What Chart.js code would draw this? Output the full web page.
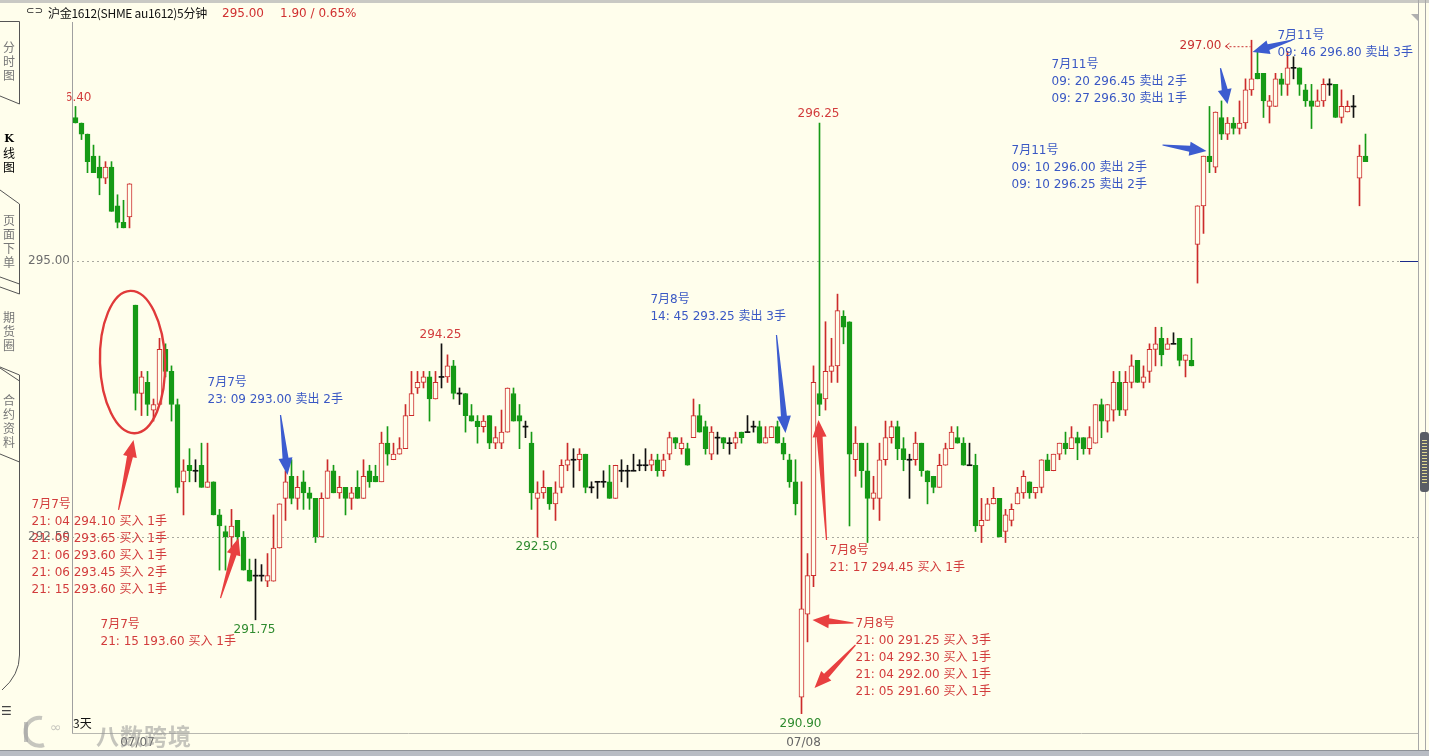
<!DOCTYPE html>
<html><head><meta charset="utf-8">
<script src="https://cdn.jsdelivr.net/npm/chart.js@4.4.1/dist/chart.umd.min.js"></script>
<style>
html,body{margin:0;padding:0;background:#FFFEEC;overflow:hidden;}
#wrap{position:relative;width:1429px;height:756px;background:#FFFEEC;font-family:"DejaVu Sans","Noto Sans CJK SC",sans-serif;overflow:hidden;}
#c{position:absolute;left:0;top:0;}
.abs{position:absolute;white-space:nowrap;}
#hdr{left:48px;top:4px;font:12px "Noto Sans CJK SC","DejaVu Sans",sans-serif;color:#111;letter-spacing:-0.3px;}
.hred{color:#D03030;font:12px "DejaVu Sans",sans-serif;top:6px;}
.tab{position:absolute;left:1px;width:16px;font:12px "Noto Sans CJK SC",sans-serif;color:#777;line-height:14px;text-align:center;}
#wm{left:96px;top:718px;font:bold 23px "Noto Sans CJK SC",sans-serif;color:rgba(150,150,150,0.55);letter-spacing:1px;}
</style></head><body>
<div id="wrap">
<canvas id="c" width="1429" height="756"></canvas>
<div class="abs" style="left:0;top:0;width:1429px;height:3px;background:#C9C9C4;"></div>
<div class="abs" style="left:26px;top:5px;font:10px 'DejaVu Sans';color:#222;">⊂⊃</div>
<div class="abs" id="hdr">沪金1612(SHME au1612)5分钟</div>
<div class="abs hred" style="left:222px;">295.00</div>
<div class="abs hred" style="left:280px;">1.90 / 0.65%</div>
<svg class="abs" style="left:0;top:0;" width="24" height="756">
<g stroke="#555" stroke-width="1" fill="none">
<path d="M0 21.5 H19.5 V104 L0 96"/>
<path d="M0 190 L19.5 204 V284 L0 277"/>
<path d="M19.5 284 V294 L0 287"/>
<path d="M0 368 L19.5 381 V375 L0 367"/>
<path d="M19.5 381 V462 L0 454"/>
<path d="M19.5 462 V655 Q19.5 675 2 690"/>
</g>
</svg>
<div class="tab" style="top:40px;">分<br>时<br>图</div>
<div class="tab" style="top:130px;color:#000;"><b style="font-family:'DejaVu Serif';font-size:11px;">K</b><br>线<br>图</div>
<div class="tab" style="top:213px;">页<br>面<br>下<br>单</div>
<div class="tab" style="top:310px;">期<br>货<br>圈</div>
<div class="tab" style="top:393px;">合<br>约<br>资<br>料</div>
<div class="abs" style="left:1px;top:704px;font:12px 'DejaVu Sans';color:#444;">☰</div>
<div class="abs" style="left:73px;top:714px;font:12px 'Noto Sans CJK SC';color:#111;">3天</div>
<svg class="abs" style="left:20px;top:712px;" width="75" height="40">
<g fill="none" stroke="rgba(160,160,160,0.6)" stroke-width="4">
<path d="M22 6 A14 14 0 1 0 24 33"/>
<path d="M6 10 V30"/>
</g>
<text x="30" y="20" font-family="DejaVu Sans" font-size="14" fill="rgba(160,160,160,0.6)">∞</text>
</svg>
<div class="abs" id="wm">八数跨境</div>
<div class="abs" style="left:1418px;top:0;width:1px;height:752px;background:#A8A8A8;"></div>
<div class="abs" style="left:1425px;top:0;width:1px;height:752px;background:#A8A8A8;"></div>
<div class="abs" style="left:1411px;top:14px;width:0;height:0;border-left:7px solid transparent;border-top:7px solid #B0B0B0;"></div>
<div class="abs" style="left:1420px;top:432px;width:9px;height:60px;background:#5A5E66;border-radius:3px;"></div>
<div class="abs" style="left:1422px;top:440px;width:5px;height:44px;background:repeating-linear-gradient(#E0D890 0 1px,#5A5E66 1px 3px);"></div>
<div class="abs" style="left:0;top:750px;width:1429px;height:6px;background:#B8BCC4;border-top:1px solid #8E9298;"></div>
</div>
<script>
// ---------------- data ----------------
const opens = [296.30,296.25,296.15,295.95,295.85,295.75,295.85,295.50,295.35,295.40,
294.60,293.80,293.90,293.65,293.70,294.20,294.00,293.70,293.00,293.15,293.10,293.15,292.95,293.00,292.70,292.55,292.50,292.65,292.50,292.20,
292.15,292.15,292.10,292.10,292.40,292.85,293.05,292.85,293.00,292.90,292.85,292.50,292.85,293.10,292.90,292.95,292.85,292.95,292.85,293.10,
293.05,293.00,293.35,293.20,293.25,293.30,293.60,293.85,293.90,293.95,293.75,293.95,293.95,294.05,293.80,293.80,293.60,293.55,293.50,293.60,
293.35,293.35,293.45,293.80,293.60,293.50,293.35,292.85,292.90,292.95,292.80,292.95,293.15,293.20,293.20,293.25,292.95,293.00,293.00,293.00,
292.85,293.10,293.10,293.10,293.15,293.15,293.15,293.20,293.10,293.25,293.40,293.30,293.30,293.40,293.60,293.50,293.25,293.40,293.40,293.35,
293.35,293.45,293.45,293.50,293.50,293.35,293.40,293.50,293.35,293.20,293.00,
291.05,291.80,292.15,293.80,293.75,294.00,294.05,294.50,294.45,293.20,293.35,293.10,292.85,292.85,293.20,293.40,293.50,293.30,293.20,293.20,
293.35,293.10,293.05,292.95,293.15,293.30,293.40,293.35,293.15,293.15,292.60,292.65,292.80,292.85,292.55,292.65,292.80,292.90,293.00,292.90,
292.95,293.20,293.10,293.25,293.35,293.30,293.40,293.40,293.30,293.35,293.70,293.55,293.65,293.90,293.65,293.90,294.10,293.90,294.00,294.20,
294.30,294.20,294.25,294.30,294.10,294.10,
295.15,295.50,295.95,295.85,296.30,296.15,296.25,296.20,296.25,296.55,296.70,296.70,296.40,296.40,296.65,296.60,296.75,296.75,296.55,296.45,
296.40,296.45,296.60,296.60,296.30,296.35,296.40,295.75,295.95];
const highs = [296.40,296.25,296.15,296.05,295.95,295.90,295.90,295.60,295.55,295.70,
294.60,294.00,294.00,293.75,294.30,294.25,294.05,293.75,293.20,293.30,293.20,293.35,293.35,293.00,292.75,292.60,292.75,292.65,292.55,292.30,
292.30,292.25,292.35,292.70,292.80,293.10,293.20,293.05,293.10,292.95,292.85,292.90,293.20,293.15,293.05,292.95,292.95,293.10,293.20,293.15,
293.15,293.45,293.50,293.35,293.40,293.70,294.00,294.00,294.00,294.00,294.00,294.25,294.15,294.10,293.85,293.80,293.70,293.60,293.60,293.60,
293.50,293.65,293.85,293.85,293.70,293.55,293.45,293.00,293.10,292.95,293.00,293.20,293.35,293.30,293.30,293.25,293.00,293.00,293.10,293.15,
293.15,293.20,293.15,293.25,293.20,293.30,293.25,293.25,293.25,293.45,293.40,293.40,293.35,293.75,293.70,293.55,293.50,293.45,293.40,293.40,
293.45,293.45,293.60,293.55,293.55,293.50,293.50,293.55,293.40,293.25,293.20,
293.00,292.35,294.05,296.25,294.45,294.30,294.70,294.55,294.45,293.50,293.35,293.35,293.05,293.35,293.55,293.55,293.55,293.40,293.25,293.45,
293.35,293.10,293.05,293.25,293.35,293.50,293.50,293.40,293.35,293.25,292.85,292.85,292.95,292.85,292.75,292.80,292.95,293.10,293.00,292.95,
293.20,293.25,293.25,293.35,293.45,293.50,293.45,293.40,293.50,293.70,293.75,293.70,294.00,294.00,294.00,294.15,294.10,294.05,294.25,294.40,
294.40,294.30,294.35,294.30,294.15,294.30,
295.50,295.95,296.40,296.35,296.45,296.30,296.30,296.45,296.65,297.00,296.90,296.70,296.50,296.70,296.70,296.90,296.85,296.75,296.60,296.60,
296.55,296.65,296.65,296.60,296.55,296.45,296.50,296.05,296.15];
const lows = [296.25,296.10,295.80,295.80,295.60,295.70,295.45,295.30,295.30,295.30,
293.65,293.60,293.60,293.55,293.70,293.95,293.55,292.90,292.70,293.00,293.00,292.95,292.95,292.70,292.20,292.20,292.40,292.40,292.20,292.10,
291.75,292.10,292.05,292.10,292.40,292.65,292.80,292.75,292.75,292.75,292.45,292.50,292.85,292.90,292.85,292.70,292.75,292.85,292.85,292.95,
293.00,293.00,293.15,293.20,293.25,293.30,293.60,293.80,293.85,293.55,293.75,293.85,293.90,293.75,293.70,293.45,293.55,293.35,293.45,293.30,
293.30,293.30,293.45,293.55,293.30,293.40,292.75,292.50,292.85,292.75,292.65,292.90,293.10,292.95,293.10,292.90,292.90,292.85,292.95,292.85,
292.85,293.00,292.95,293.10,293.10,293.10,293.10,293.05,293.05,293.20,293.30,293.25,293.15,293.40,293.45,293.25,293.20,293.25,293.30,293.25,
293.30,293.35,293.45,293.45,293.35,293.35,293.40,293.35,293.20,292.95,292.70,
290.90,291.55,292.05,293.60,293.65,293.90,293.90,294.25,292.60,293.05,292.95,292.45,292.75,292.65,293.15,293.35,293.20,293.10,292.85,293.15,
293.05,292.80,292.90,292.95,293.15,293.30,293.35,293.15,293.15,292.55,292.45,292.65,292.80,292.50,292.45,292.60,292.80,292.85,292.85,292.85,
292.90,293.10,293.10,293.20,293.25,293.30,293.20,293.25,293.25,293.35,293.40,293.45,293.55,293.60,293.60,293.85,293.90,293.85,293.90,294.05,
294.05,294.20,294.25,294.05,293.95,294.05,
294.80,295.25,295.80,295.80,296.10,296.10,296.15,296.15,296.20,296.50,296.65,296.30,296.25,296.40,296.50,296.50,296.65,296.50,296.40,296.20,
296.40,296.40,296.50,296.30,296.25,296.35,296.30,295.50,295.90];
const closes = [296.25,296.15,295.90,295.80,295.75,295.85,295.45,295.35,295.30,295.70,
293.80,293.95,293.70,293.70,294.20,294.00,293.70,292.95,293.10,293.10,293.10,292.95,293.00,292.70,292.60,292.50,292.60,292.50,292.20,292.10,
292.15,292.15,292.15,292.40,292.80,293.00,292.85,292.95,292.90,292.85,292.50,292.85,293.10,292.90,292.95,292.85,292.90,292.85,293.05,293.00,
293.00,293.35,293.25,293.25,293.30,293.60,293.80,293.90,293.95,293.75,293.90,293.95,294.05,293.80,293.80,293.60,293.55,293.50,293.55,293.35,
293.40,293.45,293.85,293.55,293.55,293.50,292.90,292.90,292.95,292.80,292.90,293.15,293.20,293.20,293.25,292.95,292.95,293.00,293.00,292.85,
293.15,293.10,293.10,293.10,293.15,293.15,293.20,293.10,293.20,293.40,293.35,293.35,293.15,293.60,293.45,293.30,293.45,293.40,293.35,293.35,
293.40,293.40,293.45,293.50,293.35,293.40,293.50,293.35,293.25,293.00,292.80,
291.85,292.15,293.90,293.70,294.00,294.05,294.55,294.40,293.25,293.35,293.10,292.85,292.90,293.20,293.40,293.50,293.30,293.20,293.20,293.35,
293.10,293.00,292.95,293.15,293.30,293.45,293.35,293.15,293.15,292.60,292.65,292.80,292.85,292.50,292.70,292.75,292.90,293.05,292.90,292.95,
293.20,293.10,293.25,293.35,293.30,293.40,293.35,293.30,293.40,293.70,293.55,293.70,293.90,293.65,293.90,294.05,293.90,293.95,294.20,294.25,
294.15,294.25,294.25,294.10,294.15,294.05,
295.50,295.95,295.90,296.35,296.15,296.25,296.20,296.25,296.55,296.65,296.65,296.45,296.45,296.65,296.60,296.75,296.75,296.60,296.45,296.40,
296.45,296.60,296.60,296.30,296.40,296.40,296.40,295.95,295.90];
const dateTicks = [{i:10, text:'07/07'}, {i:121, text:'07/08'}];
const axisTicks = [292.50, 295.00];

// ---------------- annotations (data-space anchors) ----------------
const RED = '#D23C3C', BLUE = '#3A58C4', GREEN_T = '#2E8B2E';
const notes = [
 {i:-7.33, p:292.795, color:RED, lines:['7月7号','21: 04 294.10 买入 1手','21: 05 293.65 买入 1手','21: 06 293.60 买入 1手','21: 06 293.45 买入 2手','21: 15 293.60 买入 1手']},
 {i:4.17, p:291.705, color:RED, lines:['7月7号','21: 15 193.60 买入 1手']},
 {i:22.0, p:293.895, color:BLUE, lines:['7月7号','23: 09 293.00 卖出 2手']},
 {i:95.83, p:294.65, color:BLUE, lines:['7月8号','14: 45 293.25 卖出 3手']},
 {i:125.67, p:292.375, color:RED, lines:['7月8号','21: 17 294.45 买入 1手']},
 {i:130.0, p:291.715, color:RED, lines:['7月8号','21: 00 291.25 买入 3手','21: 04 292.30 买入 1手','21: 04 292.00 买入 1手','21: 05 291.60 买入 1手']},
 {i:156.0, p:296.0, color:BLUE, lines:['7月11号','09: 10 296.00 卖出 2手','09: 10 296.25 卖出 2手']},
 {i:162.67, p:296.778, color:BLUE, lines:['7月11号','09: 20 296.45 卖出 2手','09: 27 296.30 卖出 1手']},
 {i:200.33, p:297.04, color:BLUE, lines:['7月11号','09: 46 296.80 卖出 3手']}
];
const extremeLabels = [
 {i:0, text:'296.40', color:RED, at:'high', dx:-4},
 {i:61, text:'294.25', color:RED, at:'high', dx:0},
 {i:124, text:'296.25', color:RED, at:'high', dx:0},
 {i:30, text:'291.75', color:GREEN_T, at:'low', dx:0},
 {i:77, text:'292.50', color:GREEN_T, at:'low', dx:0},
 {i:121, text:'290.90', color:GREEN_T, at:'low', dx:0}
];
const arrows = [
 {from:[7.17,292.745], to:[9.67,293.379], color:'#E84040'},
 {from:[24.17,291.947], to:[27.17,292.491], color:'#E84040'},
 {from:[34.17,293.605], to:[35.33,293.062], color:'#3C5CD0'},
 {from:[116.83,294.33], to:[118.33,293.442], color:'#3C5CD0'},
 {from:[125.17,292.473], to:[123.83,293.56], color:'#E84040'},
 {from:[129.67,291.721], to:[122.83,291.748], color:'#E84040'},
 {from:[130.0,291.522], to:[123.17,291.132], color:'#E84040'},
 {from:[181.17,296.051], to:[188.5,295.996], color:'#3C5CD0'},
 {from:[190.83,296.748], to:[192.0,296.422], color:'#3C5CD0'},
 {from:[202.83,297.002], to:[196.17,296.893], color:'#3C5CD0'}
];
const circled = {i:9.5, p:294.085, ri:5.42, rp:0.645};
const peakMark = {i:196, text:'297.00'};
const lastPrice = 295.00;

// ---------------- styling ----------------
const BG = '#FFFEEC', UP = '#CC2B2B', DOWN = '#169A16', DOJI = '#111111';
const idx = opens.map((_, k) => k);
const kind = idx.map(k => closes[k] > opens[k] ? 'up' : (closes[k] < opens[k] ? 'down' : 'doji'));
const wickColor = idx.map(k => kind[k]==='up' ? UP : kind[k]==='down' ? DOWN : DOJI);
const bodyData = idx.map(k => {
  if (kind[k]==='doji') return {x:k, y:[closes[k]-0.0046, closes[k]+0.0046]};
  return {x:k, y:[Math.min(opens[k],closes[k]), Math.max(opens[k],closes[k])]};
});
const wickData = idx.map(k => ({x:k, y:[lows[k], highs[k]]}));

const FONT = '12px "DejaVu Sans", "Noto Sans CJK SC", sans-serif';

function drawArrow(ctx, x1, y1, x2, y2, color) {
  const dx = x2-x1, dy = y2-y1, L = Math.hypot(dx, dy);
  const ux = dx/L, uy = dy/L, nx = -uy, ny = ux;
  const headL = Math.min(17, L*0.4), headW = 7, shaftW = 3;
  const bx = x2-ux*headL, by = y2-uy*headL;
  ctx.fillStyle = color;
  ctx.beginPath();
  ctx.moveTo(x1+nx*0.6, y1+ny*0.6);
  ctx.lineTo(bx+nx*shaftW, by+ny*shaftW);
  ctx.lineTo(bx+nx*headW, by+ny*headW);
  ctx.lineTo(x2, y2);
  ctx.lineTo(bx-nx*headW, by-ny*headW);
  ctx.lineTo(bx-nx*shaftW, by-ny*shaftW);
  ctx.lineTo(x1-nx*0.6, y1-ny*0.6);
  ctx.closePath();
  ctx.fill();
}

const overlay = {
  id: 'overlay',
  beforeDatasetsDraw(chart) {
    const {ctx, chartArea:a, scales:{y}} = chart;
    ctx.save();
    ctx.strokeStyle = '#A9A9A0'; ctx.lineWidth = 1; ctx.setLineDash([2,3]);
    axisTicks.forEach(v => {
      const py = Math.round(y.getPixelForValue(v)) + 0.5;
      ctx.beginPath(); ctx.moveTo(a.left, py); ctx.lineTo(a.right, py); ctx.stroke();
    });
    ctx.setLineDash([]);
    ctx.strokeStyle = '#B8B8B0';
    ctx.beginPath(); ctx.moveTo(a.left, a.bottom+0.5); ctx.lineTo(a.right, a.bottom+0.5); ctx.stroke();
    ctx.restore();
  },
  afterDatasetsDraw(chart) {
    const {ctx, chartArea:a, scales:{x, y}} = chart;
    ctx.save();
    ctx.font = FONT; ctx.textBaseline = 'middle';
    // date ticks
    ctx.fillStyle = '#666'; ctx.textAlign = 'center';
    dateTicks.forEach(d => ctx.fillText(d.text, x.getPixelForValue(d.i)+2, a.bottom+10));
    // extreme labels (clipped to plot)
    ctx.save();
    ctx.beginPath(); ctx.rect(a.left-5, a.top, a.right-a.left, a.bottom-a.top+30); ctx.clip();
    extremeLabels.forEach(l => {
      const px = x.getPixelForValue(l.i) + l.dx;
      const py = l.at==='high' ? y.getPixelForValue(highs[l.i]) - 9 : y.getPixelForValue(lows[l.i]) + 10;
      ctx.fillStyle = l.color; ctx.textAlign = 'center';
      ctx.fillText(l.text, px - 1, py);
    });
    ctx.restore();
    // peak marker 297.00 <-----
    {
      const px = x.getPixelForValue(peakMark.i), py = y.getPixelForValue(highs[peakMark.i]) + 6;
      ctx.fillStyle = '#C83030'; ctx.textAlign = 'right';
      ctx.fillText(peakMark.text, px - 30, py);
      ctx.strokeStyle = '#C83030'; ctx.lineWidth = 1;
      ctx.beginPath(); ctx.moveTo(px-22, py-3); ctx.lineTo(px-26, py); ctx.lineTo(px-22, py+3); ctx.stroke();
      ctx.setLineDash([2,2]);
      ctx.beginPath(); ctx.moveTo(px-26, py+0.5); ctx.lineTo(px-1, py+0.5); ctx.stroke();
      ctx.setLineDash([]);
    }
    // last price marker
    {
      const py = Math.round(y.getPixelForValue(lastPrice)) + 0.5;
      ctx.strokeStyle = '#1A2A8A'; ctx.lineWidth = 1;
      ctx.beginPath(); ctx.moveTo(a.right-18, py); ctx.lineTo(a.right, py); ctx.stroke();
    }
    // circle
    {
      const cx = x.getPixelForValue(circled.i), cy = y.getPixelForValue(circled.p);
      const rx = Math.abs(x.getPixelForValue(circled.i+circled.ri) - cx);
      const ry = Math.abs(y.getPixelForValue(circled.p+circled.rp) - cy);
      ctx.strokeStyle = '#E03A3A'; ctx.lineWidth = 2.4;
      ctx.beginPath(); ctx.ellipse(cx, cy, rx, ry, -0.03, 0, Math.PI*2); ctx.stroke();
    }
    // arrows
    arrows.forEach(ar => drawArrow(ctx,
      x.getPixelForValue(ar.from[0]), y.getPixelForValue(ar.from[1]),
      x.getPixelForValue(ar.to[0]), y.getPixelForValue(ar.to[1]), ar.color));
    // notes
    ctx.textAlign = 'left';
    notes.forEach(n => {
      const px = x.getPixelForValue(n.i), py = y.getPixelForValue(n.p);
      ctx.fillStyle = n.color;
      n.lines.forEach((t, k) => ctx.fillText(t, px, py + k*17));
    });
    ctx.restore();
  }
};

const yTop = 297.165, yBottom = 290.7246;
const xMin = -0.5 - 0.5/6;
const xMax = xMin + 1346/6;

new Chart(document.getElementById('c'), {
  type: 'bar',
  data: {
    datasets: [
      {label:'body', data: bodyData, order: 1, grouped: false, barThickness: 5,
       backgroundColor: idx.map(k => kind[k]==='up' ? BG : kind[k]==='down' ? DOWN : DOJI),
       borderColor: idx.map(k => kind[k]==='up' ? UP : kind[k]==='down' ? DOWN : DOJI),
       borderWidth: idx.map(k => kind[k]==='doji' ? 0 : 1), borderSkipped: false},
      {label:'wick', data: wickData, order: 2, grouped: false, barThickness: 1,
       backgroundColor: wickColor, borderWidth: 0}
    ]
  },
  options: {
    responsive: false, animation: false, devicePixelRatio: 1, events: [],
    layout: {padding: {top: 22, right: 11, bottom: 23, left: 0}},
    plugins: {legend: {display: false}, tooltip: {enabled: false}},
    scales: {
      x: {type: 'linear', min: xMin, max: xMax, display: false, offset: false},
      y: {type: 'linear', min: yBottom, max: yTop, position: 'left',
          afterFit: s => { s.width = 72; },
          afterBuildTicks: s => { s.ticks = axisTicks.map(v => ({value: v})); },
          grid: {display: false, drawTicks: false, tickLength: 0},
          border: {display: true, color: '#A0A0A0'},
          ticks: {color: '#6E6E6E', padding: 2, font: {family: '"DejaVu Sans"', size: 12},
                  callback: v => Number(v).toFixed(2)}}
    }
  },
  plugins: [overlay]
});
</script>
</body></html>
